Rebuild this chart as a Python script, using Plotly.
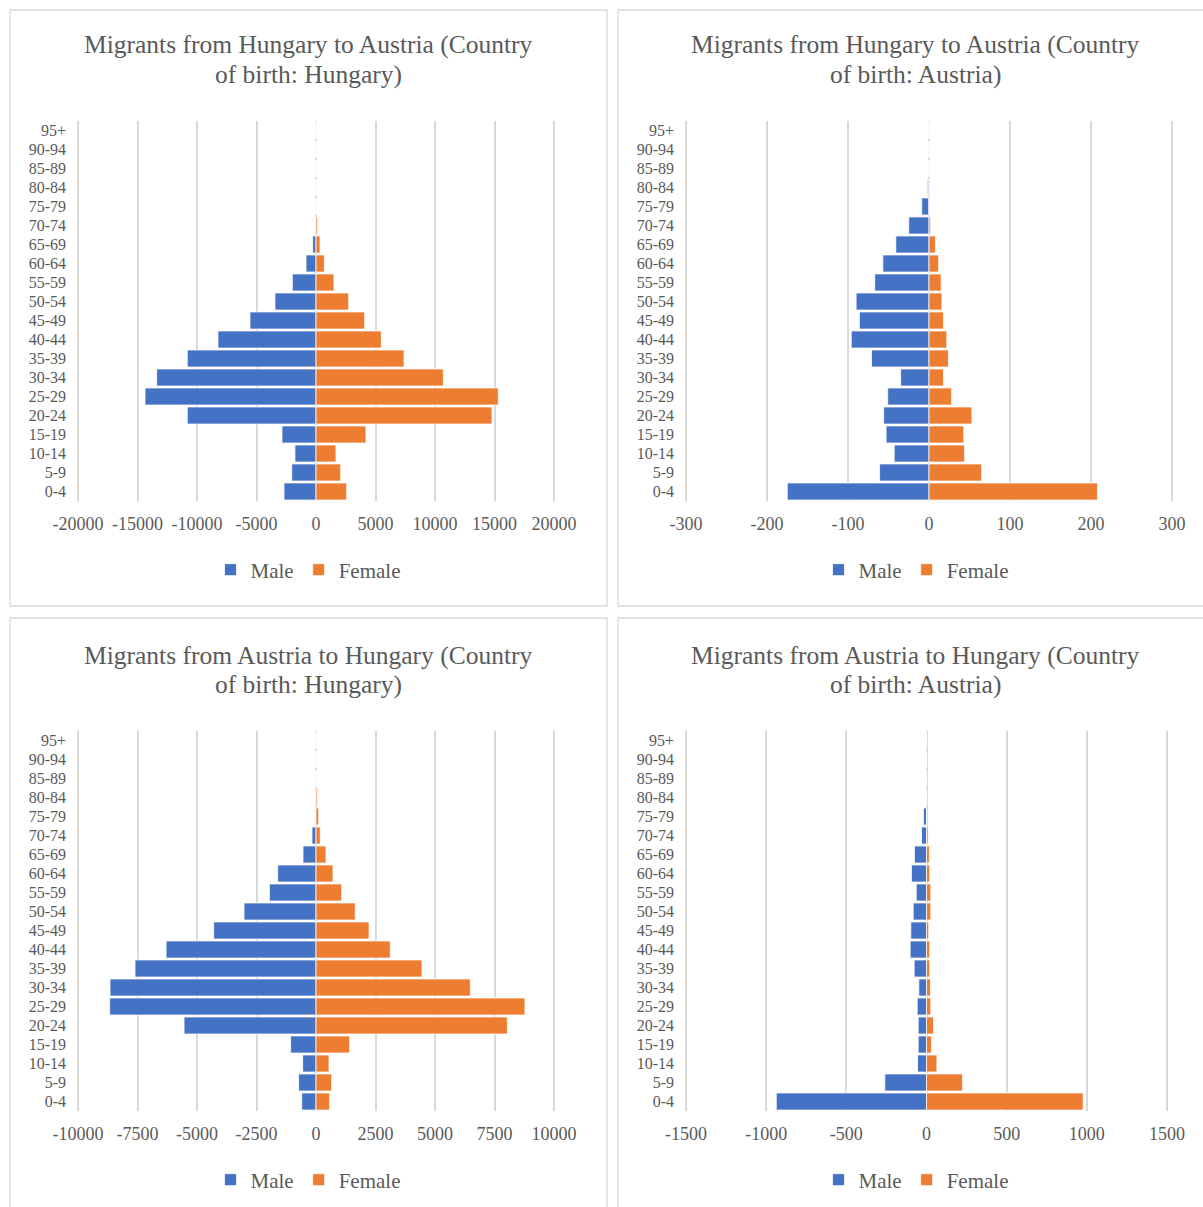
import plotly.graph_objects as go

# Age groups, bottom to top
age_groups = ["0-4", "5-9", "10-14", "15-19", "20-24", "25-29", "30-34", "35-39",
              "40-44", "45-49", "50-54", "55-59", "60-64", "65-69", "70-74",
              "75-79", "80-84", "85-89", "90-94", "95+"]

# Migrants from Hungary to Austria, born in Hungary
hu_at_hu_male = [2690, 2040, 1770, 2860, 10820, 14370, 13390, 10820, 8240, 5550,
                 3450, 1990, 840, 280, 30, 0, 0, 0, 0, 0]
hu_at_hu_female = [2580, 2080, 1680, 4200, 14790, 15320, 10700, 7400, 5490, 4090,
                   2750, 1510, 700, 340, 140, 0, 0, 0, 0, 0]

# Migrants from Hungary to Austria, born in Austria
hu_at_at_male = [175, 61, 43, 53, 56, 51, 35, 71, 96, 86,
                 90, 67, 57, 41, 25, 9, 2, 0, 0, 0]
hu_at_at_female = [208, 65, 44, 43, 53, 28, 18, 24, 22, 18,
                   16, 15, 12, 8, 2, 0, 0, 0, 0, 0]

# Migrants from Austria to Hungary, born in Hungary
at_hu_hu_male = [600, 730, 560, 1065, 5545, 8670, 8655, 7605, 6300, 4300,
                 3025, 1960, 1610, 546, 168, 0, 0, 0, 0, 0]
at_hu_hu_female = [574, 658, 546, 1415, 8040, 8780, 6485, 4455, 3120, 2230,
                   1650, 1080, 714, 420, 180, 112, 55, 0, 0, 0]

# Migrants from Austria to Hungary, born in Austria
at_hu_at_male = [937, 260, 56, 52, 52, 58, 48, 77, 102, 98,
                 83, 64, 94, 75, 31, 19, 0, 0, 0, 0]
at_hu_at_female = [977, 225, 65, 31, 44, 27, 25, 20, 20, 14,
                   27, 27, 20, 18, 10, 0, 0, 0, 0, 0]

titles = [
    ("Migrants from Hungary to Austria (Country", "of birth: Hungary)"),
    ("Migrants from Hungary to Austria (Country", "of birth: Austria)"),
    ("Migrants from Austria to Hungary (Country", "of birth: Hungary)"),
    ("Migrants from Austria to Hungary (Country", "of birth: Austria)"),
]

ticks_1 = [-20000, -15000, -10000, -5000, 0, 5000, 10000, 15000, 20000]
ticks_2 = [-300, -200, -100, 0, 100, 200, 300]
ticks_3 = [-10000, -7500, -5000, -2500, 0, 2500, 5000, 7500, 10000]
ticks_4 = [-1500, -1000, -500, 0, 500, 1000, 1500]

MALE_COLOR = "#4472C4"
FEMALE_COLOR = "#ED7D31"
TEXT_COLOR = "#595959"
GRID_COLOR = "#D9D9D9"
FONT = "Liberation Serif"

W, H = 1203, 1207
EDGE_PAD = 2  # px of extra room so the outermost gridlines are drawn


def fx(px):
    return px / W


def fy(py):
    return 1 - py / H


# Pixel geometry of each panel: plot area, title lines, legend centre, frame
panels = [
    dict(x=(78, 554), y=(121, 501), title=(308, 45, 75), legend=(308, 570), frame=(10, 10, 607, 606)),
    dict(x=(686, 1172), y=(121, 501), title=(916, 45, 75), legend=(916, 570), frame=(618, 10, 1215, 606)),
    dict(x=(78, 554), y=(731, 1111), title=(308, 655, 684), legend=(308, 1180), frame=(10, 618, 607, 1214)),
    dict(x=(686, 1167), y=(731, 1111), title=(916, 655, 684), legend=(916, 1180), frame=(618, 618, 1215, 1214)),
]

series = [
    (hu_at_hu_male, hu_at_hu_female, ticks_1),
    (hu_at_at_male, hu_at_at_female, ticks_2),
    (at_hu_hu_male, at_hu_hu_female, ticks_3),
    (at_hu_at_male, at_hu_at_female, ticks_4),
]

fig = go.Figure()
layout = dict(
    width=W, height=H,
    margin=dict(l=0, r=0, t=0, b=0, pad=0),
    paper_bgcolor="white", plot_bgcolor="white",
    barmode="relative", bargap=0.1,
    font=dict(family=FONT, color=TEXT_COLOR),
    annotations=[], shapes=[],
)

for i, (panel, (male, female, ticks)) in enumerate(zip(panels, series)):
    n = "" if i == 0 else str(i + 1)
    xa, ya = "x" + n, "y" + n
    leg = "legend" + n
    fig.add_trace(go.Bar(
        y=age_groups, x=[-v for v in male], orientation="h", name="Male",
        marker=dict(color=MALE_COLOR, line=dict(color="white", width=0.8)),
        xaxis=xa, yaxis=ya, legend=leg,
    ))
    fig.add_trace(go.Bar(
        y=age_groups, x=female, orientation="h", name="Female",
        marker=dict(color=FEMALE_COLOR, line=dict(color="white", width=0.8)),
        xaxis=xa, yaxis=ya, legend=leg,
    ))

    px0, px1 = panel["x"]
    per_px = (ticks[-1] - ticks[0]) / (px1 - px0)
    layout["xaxis" + n] = dict(
        domain=[fx(px0 - EDGE_PAD), fx(px1 + EDGE_PAD)],
        anchor=ya,
        range=[ticks[0] - EDGE_PAD * per_px, ticks[-1] + EDGE_PAD * per_px],
        tickvals=ticks, ticktext=[str(t) for t in ticks],
        showgrid=True, gridcolor=GRID_COLOR, gridwidth=1.5,
        zeroline=True, zerolinecolor=GRID_COLOR, zerolinewidth=1.5,
        showline=False, ticks="", ticklabelstandoff=10,
        tickfont=dict(family=FONT, size=18, color=TEXT_COLOR),
        automargin=False, fixedrange=True,
    )
    layout["yaxis" + n] = dict(
        domain=[fy(panel["y"][1]), fy(panel["y"][0])],
        anchor=xa, type="category",
        categoryorder="array", categoryarray=age_groups,
        range=[-0.5, len(age_groups) - 0.5],
        showgrid=False, zeroline=False, showline=False, ticks="",
        ticklabelstandoff=9,
        tickfont=dict(family=FONT, size=16, color=TEXT_COLOR),
        automargin=False, fixedrange=True,
    )
    layout[leg] = dict(
        orientation="h", xref="paper", yref="paper",
        x=fx(panel["legend"][0]), y=fy(panel["legend"][1]),
        xanchor="center", yanchor="middle",
        font=dict(family=FONT, size=21, color=TEXT_COLOR),
        bgcolor="rgba(0,0,0,0)", itemwidth=30, traceorder="normal",
    )
    tx, ty1, ty2 = panel["title"]
    for line, ty in zip(titles[i], (ty1, ty2)):
        layout["annotations"].append(dict(
            text=line, xref="paper", yref="paper",
            x=fx(tx), y=fy(ty),
            xanchor="center", yanchor="middle", showarrow=False,
            font=dict(family=FONT, size=25.5, color=TEXT_COLOR),
        ))
    x0, y0, x1, y1 = panel["frame"]
    layout["shapes"].append(dict(
        type="rect", xref="paper", yref="paper",
        x0=fx(x0), x1=fx(x1), y0=fy(y1), y1=fy(y0),
        line=dict(color=GRID_COLOR, width=1.3), fillcolor="rgba(0,0,0,0)",
        layer="below",
    ))

fig.update_layout(**layout)
fig.write_html("out.html")
